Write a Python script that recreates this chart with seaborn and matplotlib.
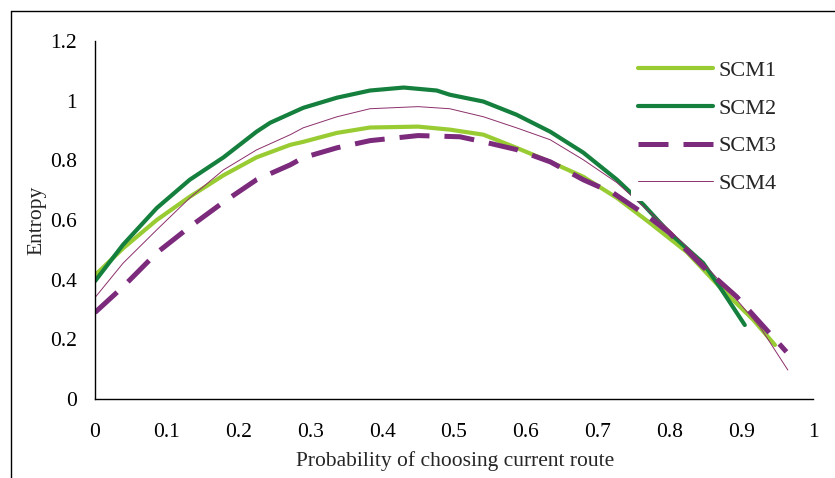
import matplotlib
matplotlib.use('Agg')
import matplotlib.pyplot as plt
from matplotlib.lines import Line2D
from matplotlib.ticker import FormatStrFormatter
import pandas as pd
import seaborn as sns

# values
scm1_x = [0, 0.04, 0.086, 0.132, 0.179, 0.225, 0.272, 0.29, 0.337, 0.383, 0.45,
          0.494, 0.541, 0.587, 0.634, 0.68, 0.727, 0.773, 0.824, 0.87, 0.917, 0.947]
scm1_y = [0.415, 0.507, 0.60, 0.678, 0.75, 0.81, 0.852, 0.862, 0.892, 0.91, 0.913,
          0.903, 0.886, 0.842, 0.795, 0.745, 0.674, 0.59, 0.493, 0.376, 0.265, 0.181]

scm2_x = [0, 0.039, 0.086, 0.132, 0.179, 0.225, 0.244, 0.29, 0.337, 0.383, 0.43, 0.476,
          0.494, 0.541, 0.587, 0.634, 0.68, 0.727, 0.764, 0.80, 0.847, 0.87, 0.905]
scm2_y = [0.395, 0.517, 0.64, 0.735, 0.81, 0.896, 0.926, 0.976, 1.01, 1.034, 1.044, 1.034,
          1.02, 0.997, 0.953, 0.896, 0.826, 0.735, 0.651, 0.557, 0.456, 0.376, 0.248]

scm3_x = [0, 0.039, 0.086, 0.132, 0.179, 0.225, 0.272, 0.29, 0.337, 0.383, 0.45,
          0.508, 0.541, 0.587, 0.634, 0.68, 0.722, 0.773, 0.80, 0.847, 0.894, 0.963]
scm3_y = [0.29, 0.376, 0.49, 0.577, 0.66, 0.735, 0.785, 0.809, 0.842, 0.866, 0.883,
          0.879, 0.862, 0.836, 0.795, 0.735, 0.69, 0.607, 0.557, 0.443, 0.342, 0.158]

scm4_x = [0, 0.039, 0.086, 0.132, 0.179, 0.225, 0.272, 0.29, 0.337, 0.383, 0.45,
          0.494, 0.541, 0.587, 0.634, 0.68, 0.727, 0.80, 0.847, 0.894, 0.926, 0.965]
scm4_y = [0.34, 0.455, 0.567, 0.674, 0.768, 0.835, 0.886, 0.909, 0.946, 0.973, 0.98,
          0.973, 0.946, 0.909, 0.869, 0.802, 0.725, 0.567, 0.456, 0.332, 0.242, 0.097]

names = ['SCM1', 'SCM2', 'SCM3', 'SCM4']
xs = [scm1_x, scm2_x, scm3_x, scm4_x]
ys = [scm1_y, scm2_y, scm3_y, scm4_y]

x_ticks = [0, 0.1, 0.2, 0.3, 0.4, 0.5, 0.6, 0.7, 0.8, 0.9, 1]
y_ticks = [0, 0.2, 0.4, 0.6, 0.8, 1, 1.2]

styles = {
    'SCM1': dict(color='#99CC33', lw=3.0, ls='-'),
    'SCM2': dict(color='#15803E', lw=3.0, ls='-'),
    'SCM3': dict(color='#7B2A7C', lw=3.6, ls=(0, (6, 3))),
    'SCM4': dict(color='#8B2F6A', lw=0.7, ls='-'),
}

sns.set_style('white')
plt.rcParams['font.family'] = ['Liberation Serif', 'DejaVu Serif']
fs = 15.5

fig = plt.figure(figsize=(8.35, 4.78), dpi=100)
ax = fig.add_axes([95 / 835, 1 - 399 / 478, 718 / 835, 358 / 478])

for name, x, y in zip(names, xs, ys):
    df = pd.DataFrame({'p': x, 'entropy': y})
    st = styles[name]
    sns.lineplot(data=df, x='p', y='entropy', ax=ax, sort=False, label=name,
                 color=st['color'], linewidth=st['lw'], linestyle=st['ls'],
                 solid_capstyle='round', dash_capstyle='butt')

ax.set_xlim(0, 1)
ax.set_ylim(0, 1.2)
ax.set_xticks(x_ticks)
ax.set_yticks(y_ticks)
ax.xaxis.set_major_formatter(FormatStrFormatter('%g'))
ax.yaxis.set_major_formatter(FormatStrFormatter('%g'))
ax.tick_params(direction='in', length=5, width=1, colors='black', labelsize=fs)
ax.tick_params(axis='x', pad=17)
ax.tick_params(axis='y', pad=13)
for side in ['top', 'right']:
    ax.spines[side].set_visible(False)
for side in ['left', 'bottom']:
    ax.spines[side].set_color('black')
    ax.spines[side].set_linewidth(1)

ax.set_xlabel('Probability of choosing current route', fontsize=fs)
ax.set_ylabel('Entropy', fontsize=fs)
ax.xaxis.set_label_coords(0.501, -0.145)
ax.yaxis.set_label_coords(-0.068, 0.5)

leg = ax.legend(loc='upper left', bbox_to_anchor=(0.7465, 0.964), frameon=True,
                facecolor='white', edgecolor='none', framealpha=1, fontsize=16,
                handlelength=3.38, handletextpad=0.27, labelspacing=0.77,
                borderpad=0.3, borderaxespad=0)

# partial outer frame seen in the reference
fig.add_artist(Line2D([11 / 835, 11 / 835], [0, 1 - 11 / 478], color='black', lw=1))
fig.add_artist(Line2D([11 / 835, 1], [1 - 11 / 478, 1 - 11 / 478], color='black', lw=1))

fig.savefig('out.png', dpi=100)
